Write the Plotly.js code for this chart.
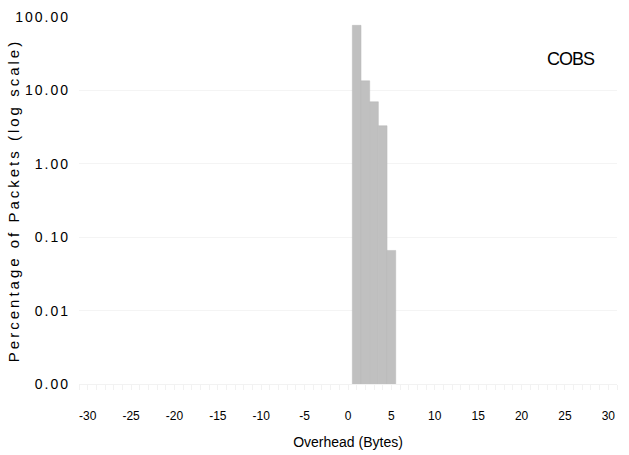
<!DOCTYPE html>
<html><head><meta charset="utf-8">
<script src="https://cdn.plot.ly/plotly-3.0.1.min.js"></script>
<style>
body{margin:0;background:#fff;}
#chart .ytick text{letter-spacing:2px;}
#chart .g-ytitle text{letter-spacing:3px;}
#chart .annotation-text{letter-spacing:-1px;}
</style>
</head><body>
<div id="chart" style="width:629px;height:455px;"></div>
<script>
const overheadBytes = [1, 2, 3, 4, 5];
const percentPackets = [77, 13.5, 7, 3.3, 0.066];
const yTickVals = [0.001, 0.01, 0.1, 1, 10, 100];
const yTickText = ["0.00", "0.01", "0.10", "1.00", "10.00", "100.00"];
const xTickVals = [-30, -25, -20, -15, -10, -5, 0, 5, 10, 15, 20, 25, 30];
const seriesLabel = "COBS";

const trace = {
  type: 'bar',
  x: overheadBytes,
  y: percentPackets,
  width: 1,
  marker: {color: '#c0c0c0', line: {color: '#b9b9b9', width: 0.5}},
  hoverinfo: 'x+y'
};

const layout = {
  width: 629, height: 455,
  margin: {l: 79, r: 12, t: 17, b: 71},
  paper_bgcolor: '#fff', plot_bgcolor: '#fff',
  showlegend: false,
  bargap: 0,
  font: {family: 'Liberation Sans, Arial, sans-serif', color: '#000'},
  xaxis: {
    range: [-31, 31],
    tickvals: xTickVals,
    ticktext: xTickVals.map(String),
    tickfont: {size: 12, color: '#000'},
    showgrid: false,
    zeroline: false,
    showline: true, linecolor: '#f2f2f2', linewidth: 1,
    ticks: 'outside', ticklen: 5, tickcolor: '#f2f2f2',
    minor: {dtick: 1, ticks: 'outside', ticklen: 5, tickcolor: '#f2f2f2'},
    ticklabelstandoff: 16,
    title: {text: 'Overhead (Bytes)', font: {size: 14, color: '#000'}, standoff: 14}
  },
  yaxis: {
    type: 'log',
    range: [-3, 2],
    tickvals: yTickVals,
    ticktext: yTickText,
    tickfont: {size: 14, color: '#000'},
    showgrid: true, gridcolor: '#f4f4f4', gridwidth: 1,
    zeroline: false, showline: false,
    ticks: '', ticklabelstandoff: 8,
    title: {text: 'Percentage of Packets (log scale)', font: {size: 15, color: '#000'}, standoff: 3}
  },
  annotations: [{
    text: seriesLabel, xref: 'paper', yref: 'paper',
    x: 0.965, y: 0.885, xanchor: 'right', yanchor: 'middle',
    showarrow: false, font: {size: 18, color: '#000'}
  }]
};

Plotly.newPlot('chart', [trace], layout, {displayModeBar: false, staticPlot: true});
</script>
</body></html>
